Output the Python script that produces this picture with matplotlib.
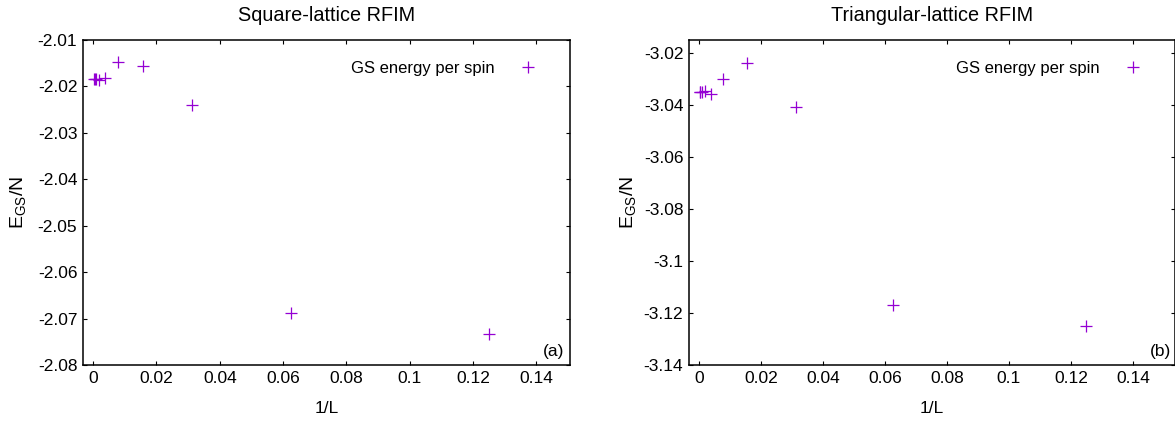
import matplotlib
matplotlib.use("Agg")
import matplotlib.pyplot as plt
from matplotlib.ticker import FixedLocator, FixedFormatter

plt.rcParams['font.family'] = ['Liberation Sans', 'DejaVu Sans']
plt.rcParams['mathtext.fontset'] = 'custom'
plt.rcParams['mathtext.rm'] = 'Liberation Sans'

# ---- data ----
inv_L = [0.125, 0.0625, 0.03125, 0.015625, 0.0078125, 0.00390625,
         0.001953125, 0.0009765625, 0.00048828125, 0.000244140625]
e_square = [-2.0734, -2.0688, -2.0241, -2.0157, -2.0147, -2.0182,
            -2.0186, -2.0185, -2.0183, -2.0183]
e_triangular = [-3.1249, -3.1169, -3.0409, -3.0240, -3.0301, -3.0358,
                -3.0347, -3.0350, -3.0351, -3.0352]

x_ticks = [0, 0.02, 0.04, 0.06, 0.08, 0.1, 0.12, 0.14]
x_tick_labels = ['0', '0.02', '0.04', '0.06', '0.08', '0.1', '0.12', '0.14']
y_ticks_sq = [-2.08, -2.07, -2.06, -2.05, -2.04, -2.03, -2.02, -2.01]
y_tick_labels_sq = ['-2.08', '-2.07', '-2.06', '-2.05', '-2.04', '-2.03', '-2.02', '-2.01']
y_ticks_tri = [-3.14, -3.12, -3.10, -3.08, -3.06, -3.04, -3.02]
y_tick_labels_tri = ['-3.14', '-3.12', '-3.1', '-3.08', '-3.06', '-3.04', '-3.02']

titles = ['Square-lattice RFIM', 'Triangular-lattice RFIM']
panel_tags = ['(a)', '(b)']
legend_label = 'GS energy per spin'
color = '#9400D3'

W, H = 1175, 421
fig = plt.figure(figsize=(W / 100, H / 100), dpi=100)

def px_axes(x0, x1, ytop, ybot):
    return fig.add_axes([x0 / W, 1 - ybot / H, (x1 - x0) / W, (ybot - ytop) / H])

ax1 = px_axes(83.3, 570, 40, 365)
ax2 = px_axes(689.3, 1175, 40, 365)

panels = [
    (ax1, e_square, y_ticks_sq, y_tick_labels_sq, (-2.08, -2.01), (-0.0031, 0.1506), -0.112, 0.9877),
    (ax2, e_triangular, y_ticks_tri, y_tick_labels_tri, (-3.14, -3.0151), (-0.0031, 0.1536), -0.103, 0.993),
]

for i, (ax, yv, yt, ytl, ylim, xlim, ylab_x, tag_x) in enumerate(panels):
    ax.plot(inv_L, yv, linestyle='none', marker='+', markersize=8.2,
            markeredgewidth=0.9, color=color, label=legend_label)
    ax.set_xlim(*xlim)
    ax.set_ylim(*ylim)
    ax.xaxis.set_major_locator(FixedLocator(x_ticks))
    ax.xaxis.set_major_formatter(FixedFormatter(x_tick_labels))
    ax.yaxis.set_major_locator(FixedLocator(yt))
    ax.yaxis.set_major_formatter(FixedFormatter(ytl))
    ax.tick_params(direction='in', length=3.1, width=0.8, top=True, right=True,
                   labelsize=12.5, pad=4.3, colors='black')
    for s in ax.spines.values():
        s.set_linewidth(1.1)
    ax.set_title(titles[i], fontsize=14.3, pad=13.5)
    ax.set_xlabel('1/L', fontsize=12.5, labelpad=10.5)
    ax.set_ylabel(r'E$_{\rm GS}$/N', fontsize=14)
    ax.yaxis.set_label_coords(ylab_x, 0.5)
    ax.legend(loc='center right', bbox_to_anchor=(0.947, 0.912), frameon=False,
              markerfirst=False, fontsize=12, handlelength=2.0, handletextpad=0.96,
              borderpad=0, borderaxespad=0)
    ax.text(tag_x, 0.043, panel_tags[i], transform=ax.transAxes, ha='right',
            va='center', fontsize=12.5)

fig.savefig('out.png', dpi=100)
